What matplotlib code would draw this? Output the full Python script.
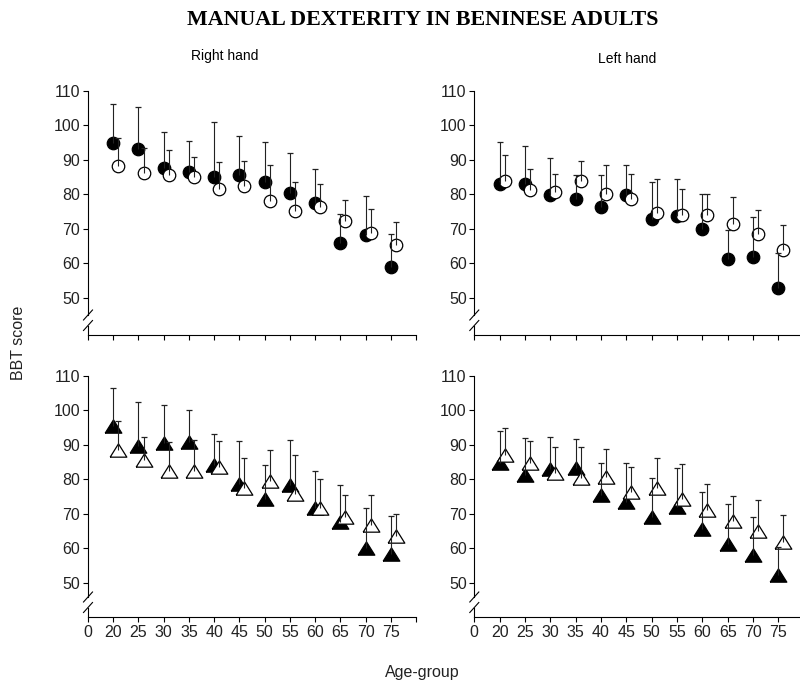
import matplotlib
matplotlib.use("Agg")
import matplotlib.pyplot as plt
import numpy as np

plt.rcParams['font.family'] = ['Liberation Sans', 'DejaVu Sans']

# age groups (first tick "0" is the axis origin, last tick is unlabeled)
age_labels = ['0', '20', '25', '30', '35', '40', '45', '50', '55', '60', '65', '70', '75', '']
ages = np.arange(1, 13)

# Right hand (circles) - filled / open series, mean and upper SD
rh_circ_filled = [94.7, 93.1, 87.6, 86.3, 85.1, 85.7, 83.5, 80.4, 77.5, 65.8, 68.3, 58.9]
rh_circ_filled_sd = [11.5, 12.1, 10.5, 9.0, 15.8, 11.2, 11.6, 11.5, 9.9, 8.4, 11.1, 9.7]
rh_circ_open = [88.3, 86.2, 85.5, 85.1, 81.5, 82.5, 78.0, 75.0, 76.4, 72.3, 68.8, 65.3]
rh_circ_open_sd = [8.1, 7.3, 7.2, 5.8, 7.9, 7.2, 10.5, 8.6, 6.6, 5.9, 6.9, 6.7]

# Left hand (circles)
lh_circ_filled = [83.0, 83.0, 79.8, 78.7, 76.2, 79.7, 72.7, 73.8, 70.0, 61.1, 61.7, 52.7]
lh_circ_filled_sd = [12.2, 11.0, 10.8, 7.0, 9.5, 8.8, 10.7, 10.7, 10.0, 8.4, 11.8, 10.2]
lh_circ_open = [83.8, 81.2, 80.5, 83.9, 80.0, 78.6, 74.6, 73.9, 74.0, 71.5, 68.6, 63.9]
lh_circ_open_sd = [7.6, 6.2, 5.3, 5.8, 8.6, 7.3, 9.7, 7.6, 6.0, 7.6, 6.7, 7.2]

# Right hand (triangles)
rh_tri_filled = [95.6, 89.7, 90.6, 90.7, 84.2, 78.5, 74.2, 78.3, 71.6, 67.6, 60.0, 58.3]
rh_tri_filled_sd = [10.8, 12.7, 10.9, 9.3, 9.0, 12.5, 9.9, 13.2, 10.9, 10.8, 11.6, 11.0]
rh_tri_open = [88.6, 85.6, 82.5, 82.5, 83.5, 77.4, 79.6, 75.7, 71.8, 69.0, 66.7, 63.4]
rh_tri_open_sd = [8.4, 6.8, 8.3, 8.8, 7.5, 8.7, 9.0, 11.4, 8.2, 6.3, 8.6, 6.6]

# Left hand (triangles)
lh_tri_filled = [84.6, 81.2, 82.9, 83.3, 75.4, 73.3, 69.0, 71.9, 65.6, 61.2, 58.0, 52.3]
lh_tri_filled_sd = [9.4, 10.7, 9.4, 8.3, 9.4, 11.3, 11.4, 11.3, 10.8, 11.7, 11.0, 8.1]
lh_tri_open = [87.1, 84.6, 81.7, 80.3, 80.6, 76.3, 77.6, 74.3, 71.0, 67.9, 64.9, 61.7]
lh_tri_open_sd = [7.8, 6.6, 7.6, 9.2, 8.1, 7.3, 8.5, 10.0, 7.5, 7.2, 9.2, 8.0]

yticks = [50, 60, 70, 80, 90, 100, 110]

W, H = 800, 684
fig = plt.figure(figsize=(W / 100, H / 100), dpi=100)

tri = [(-1, -0.8), (1, -0.8), (0, 0.8), (-1, -0.8)]


def panel(x0, x1, ytop, ybot, ymin):
    ax = fig.add_axes([x0 / W, (H - ybot) / H, (x1 - x0) / W, (ybot - ytop) / H])
    ax.set_xlim(0, 13)
    ax.set_ylim(ymin, 110)
    for s in ['top', 'right']:
        ax.spines[s].set_visible(False)
    for s in ['left', 'bottom']:
        ax.spines[s].set_linewidth(0.8)
    ax.set_xticks(range(14))
    ax.set_xticklabels(age_labels)
    ax.set_yticks(yticks)
    ax.tick_params(direction='out', length=3.5, width=0.8, labelsize=11.5,
                   labelcolor='#222222', pad=2)
    # axis break on the y axis
    hpx = ybot - ytop
    wpx = x1 - x0
    y_up = 20 / hpx
    y_lo = 9.5 / hpx
    ylo_data = ymin + (110 - ymin) * y_lo
    yup_data = ymin + (110 - ymin) * y_up
    ax.spines['left'].set_bounds(yup_data, 110)
    ax.plot([0, 0], [ymin, ylo_data], color='black', lw=0.8, clip_on=False)
    dx, dy = 4.5 / wpx, 5 / hpx
    for yc in (y_up, y_lo):
        ax.plot([-dx, dx], [yc - dy, yc + dy], color='black', lw=0.8,
                transform=ax.transAxes, clip_on=False)
    return ax


def series(ax, means, sds, offset, marker, ms, filled):
    x = ages + offset
    tops = np.array(means) + np.array(sds)
    ax.plot(x, means, linestyle='none', marker=marker, markersize=ms,
            markerfacecolor='black' if filled else 'white',
            markeredgecolor='black', markeredgewidth=0.9, zorder=3)
    # upper SD only
    ax.vlines(x, means, tops, colors='#222222', linewidth=0.8, zorder=4)
    ax.plot(x, tops, linestyle='none', marker='_', markersize=4.5,
            markeredgewidth=0.9, color='#222222', zorder=4)


ax1 = panel(88, 416, 90.7, 335, 39.2)
ax2 = panel(474.3, 803.7, 90.7, 335, 39.2)
ax3 = panel(88, 416, 376, 617, 40.0)
ax4 = panel(474.3, 803.7, 376, 617, 40.0)

for ax in (ax1, ax2):
    ax.tick_params(axis='x', labelbottom=False)

series(ax1, rh_circ_filled, rh_circ_filled_sd, 0, 'o', 9, True)
series(ax1, rh_circ_open, rh_circ_open_sd, 0.2, 'o', 9, False)
series(ax2, lh_circ_filled, lh_circ_filled_sd, 0, 'o', 9, True)
series(ax2, lh_circ_open, lh_circ_open_sd, 0.2, 'o', 9, False)
series(ax3, rh_tri_filled, rh_tri_filled_sd, 0, tri, 12, True)
series(ax3, rh_tri_open, rh_tri_open_sd, 0.2, tri, 12, False)
series(ax4, lh_tri_filled, lh_tri_filled_sd, 0, tri, 12, True)
series(ax4, lh_tri_open, lh_tri_open_sd, 0.2, tri, 12, False)

fig.text(423 / W, (H - 20) / H, 'MANUAL DEXTERITY IN BENINESE ADULTS',
         family=['Liberation Serif', 'DejaVu Serif'], fontweight='bold',
         fontsize=15.8, ha='center', va='center')
fig.text(225 / W, (H - 56) / H, 'Right hand', fontsize=10, ha='center', va='center')
fig.text(627 / W, (H - 59) / H, 'Left hand', fontsize=10, ha='center', va='center')
fig.text(19 / W, (H - 343) / H, 'BBT score', fontsize=11.5, rotation=90,
         ha='center', va='center', color='#222222')
fig.text(422 / W, (H - 673) / H, 'Age-group', fontsize=11.5, ha='center',
         va='center', color='#222222')

fig.savefig('out.png', dpi=100)
